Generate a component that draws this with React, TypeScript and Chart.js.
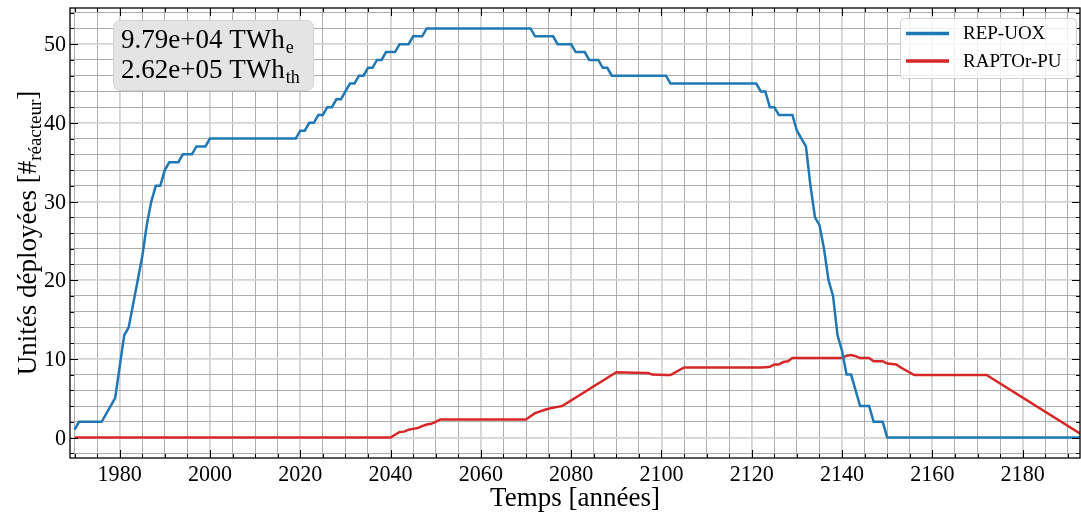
import React, { useEffect, useRef } from 'react';
import { Chart, registerables } from 'chart.js';

Chart.register(...registerables);

const W = 1081;
const H = 518;

const blueYears = [1970, 1971, 1976, 1979, 1980, 1981, 1982, 1983, 1984, 1985, 1986, 1987, 1988, 1989, 1990, 1991, 1993, 1994, 1996, 1997, 1999, 2000, 2019, 2020, 2021, 2022, 2023, 2024, 2025, 2026, 2027, 2028, 2029, 2030, 2031, 2032, 2033, 2034, 2035, 2036, 2037, 2038, 2039, 2041, 2042, 2044, 2045, 2047, 2048, 2071, 2072, 2076, 2077, 2080, 2081, 2083, 2084, 2086, 2087, 2088, 2089, 2101, 2102, 2121, 2122, 2123, 2124, 2125, 2126, 2129, 2130, 2131, 2132, 2133, 2134, 2135, 2136, 2137, 2138, 2139, 2140, 2141, 2142, 2144, 2146, 2147, 2149, 2150, 2193];
const blueValues = [1, 2, 2, 5, 9, 13, 14, 17, 20, 23, 27, 30, 32, 32, 34, 35, 35, 36, 36, 37, 37, 38, 38, 39, 39, 40, 40, 41, 41, 42, 42, 43, 43, 44, 45, 45, 46, 46, 47, 47, 48, 48, 49, 49, 50, 50, 51, 51, 52, 52, 51, 51, 50, 50, 49, 49, 48, 48, 47, 47, 46, 46, 45, 45, 44, 44, 42, 42, 41, 41, 39, 38, 37, 32, 28, 27, 24, 20, 18, 13, 11, 8, 8, 4, 4, 2, 2, 0, 0];

const redYears = [1970, 2040, 2041, 2042, 2043, 2044, 2045, 2046, 2047, 2048, 2049, 2050, 2051, 2070, 2071, 2072, 2073, 2074, 2075, 2076, 2077, 2078, 2090, 2094, 2097, 2098, 2101, 2102, 2105, 2122, 2123, 2124, 2125, 2126, 2127, 2128, 2129, 2140, 2141, 2142, 2143, 2144, 2146, 2147, 2149, 2150, 2152, 2153, 2156, 2172, 2193];
const redValues = [0, 0, 0.35, 0.7, 0.75, 1.0, 1.1, 1.2, 1.45, 1.65, 1.75, 2.0, 2.3, 2.3, 2.7, 3.1, 3.3, 3.5, 3.65, 3.8, 3.9, 4.0, 8.3, 8.25, 8.2, 8.0, 7.95, 7.95, 8.9, 8.9, 8.95, 9.0, 9.3, 9.3, 9.6, 9.7, 10.1, 10.1, 10.4, 10.5, 10.35, 10.1, 10.1, 9.7, 9.7, 9.4, 9.3, 8.9, 7.95, 7.95, 0.4];

const seriesNames = ['REP-UOX', 'RAPTOr-PU'];
const seriesColors = ['#1f77b4', '#d62728'];
const xTickLabels = [1980, 2000, 2020, 2040, 2060, 2080, 2100, 2120, 2140, 2160, 2180];
const yTickLabels = [0, 10, 20, 30, 40, 50];
const xTitle = 'Temps [années]';
const yTitleMain = 'Unités déployées [#';
const yTitleSub = 'réacteur';
const yTitleEnd = ']';
const boxMain = ['9.79e+04 TWh', '2.62e+05 TWh'];
const boxSub = ['e', 'th'];

const X_MIN = 1969;
const X_MAX = 2192.7;
const Y_MIN = -2.6;
const Y_MAX = 54.6;

const FONT = "'Liberation Serif', 'DejaVu Serif', serif";

const xGrid: number[] = [];
for (let v = 1970; v <= 2190; v += 5) xGrid.push(v);
const yGrid: number[] = [];
for (let v = -2; v <= 54; v += 2) yGrid.push(v);

const MAJOR_GRID = '#d4d4d4';
const MINOR_GRID = '#a4a4a4';

function roundRect(ctx: CanvasRenderingContext2D, x: number, y: number, w: number, h: number, r: number) {
  ctx.beginPath();
  ctx.moveTo(x + r, y);
  ctx.lineTo(x + w - r, y);
  ctx.quadraticCurveTo(x + w, y, x + w, y + r);
  ctx.lineTo(x + w, y + h - r);
  ctx.quadraticCurveTo(x + w, y + h, x + w - r, y + h);
  ctx.lineTo(x + r, y + h);
  ctx.quadraticCurveTo(x, y + h, x, y + h - r);
  ctx.lineTo(x, y + r);
  ctx.quadraticCurveTo(x, y, x + r, y);
  ctx.closePath();
}

function narrowText(ctx: CanvasRenderingContext2D, text: string, x: number, y: number, sx: number) {
  ctx.save();
  ctx.translate(x, y);
  ctx.scale(sx, 1);
  ctx.fillText(text, 0, 0);
  ctx.restore();
}

const decorPlugin = {
  id: 'decor',
  afterDraw(chart: any) {
    const ctx: CanvasRenderingContext2D = chart.ctx;
    const a = chart.chartArea;
    const xs = chart.scales.x;
    const ys = chart.scales.y;
    ctx.save();

    // frame
    ctx.strokeStyle = '#000';
    ctx.lineWidth = 1.3;
    ctx.strokeRect(a.left, a.top, a.right - a.left, a.bottom - a.top);

    // ticks (inward, all sides)
    ctx.lineWidth = 1;
    ctx.beginPath();
    for (const v of xGrid) {
      const px = Math.round(xs.getPixelForValue(v)) + 0.5;
      const len = v % 20 === 0 ? 8 : 4;
      ctx.moveTo(px, a.bottom);
      ctx.lineTo(px, a.bottom - len);
      ctx.moveTo(px, a.top);
      ctx.lineTo(px, a.top + len);
    }
    for (const v of yGrid) {
      const py = Math.round(ys.getPixelForValue(v)) + 0.5;
      const len = v % 10 === 0 ? 8 : 4;
      ctx.moveTo(a.left, py);
      ctx.lineTo(a.left + len, py);
      ctx.moveTo(a.right, py);
      ctx.lineTo(a.right - len, py);
    }
    ctx.stroke();

    // tick labels
    ctx.fillStyle = '#000';
    ctx.font = `24px ${FONT}`;
    ctx.textAlign = 'center';
    ctx.textBaseline = 'middle';
    for (const v of xTickLabels) {
      narrowText(ctx, String(v), xs.getPixelForValue(v), 475, 0.92);
    }
    ctx.textAlign = 'right';
    for (const v of yTickLabels) {
      narrowText(ctx, String(v), a.left - 4, ys.getPixelForValue(v) + 1, 0.92);
    }

    // x title
    ctx.font = `27px ${FONT}`;
    ctx.textAlign = 'center';
    ctx.fillText(xTitle, (a.left + a.right) / 2, 499);

    // y title (rotated with subscript)
    ctx.save();
    ctx.translate(27, (a.top + a.bottom) / 2);
    ctx.rotate(-Math.PI / 2);
    ctx.font = `27px ${FONT}`;
    const w1 = ctx.measureText(yTitleMain).width;
    ctx.font = `19px ${FONT}`;
    const w2 = ctx.measureText(yTitleSub).width;
    ctx.font = `27px ${FONT}`;
    const w3 = ctx.measureText(yTitleEnd).width;
    const total = w1 + w2 + w3;
    let cx = -total / 2;
    ctx.textAlign = 'left';
    ctx.textBaseline = 'alphabetic';
    ctx.fillText(yTitleMain, cx, 9);
    cx += w1;
    ctx.font = `19px ${FONT}`;
    ctx.fillText(yTitleSub, cx, 14);
    cx += w2;
    ctx.font = `27px ${FONT}`;
    ctx.fillText(yTitleEnd, cx, 9);
    ctx.restore();

    // text box
    ctx.fillStyle = '#e4e4e4';
    ctx.strokeStyle = '#d2d2d2';
    ctx.lineWidth = 1;
    roundRect(ctx, 113.5, 20.5, 200, 70, 8);
    ctx.fill();
    ctx.stroke();
    ctx.fillStyle = '#000';
    ctx.textAlign = 'left';
    ctx.textBaseline = 'alphabetic';
    const baselines = [48, 78];
    for (let i = 0; i < boxMain.length; i++) {
      ctx.font = `27px ${FONT}`;
      ctx.fillText(boxMain[i], 121, baselines[i]);
      const mw = ctx.measureText(boxMain[i]).width;
      ctx.font = `18px ${FONT}`;
      ctx.fillText(boxSub[i], 121 + mw + 1, baselines[i] + 5);
    }

    // legend
    ctx.fillStyle = 'rgba(255,255,255,0.82)';
    ctx.strokeStyle = '#d0d0d0';
    ctx.lineWidth = 1;
    roundRect(ctx, 900.5, 18.5, 176, 60, 4);
    ctx.fill();
    ctx.stroke();
    const ly = [33.5, 61];
    for (let i = 0; i < seriesNames.length; i++) {
      ctx.strokeStyle = seriesColors[i];
      ctx.lineWidth = 3.4;
      ctx.beginPath();
      ctx.moveTo(906, ly[i]);
      ctx.lineTo(949, ly[i]);
      ctx.stroke();
      ctx.fillStyle = '#000';
      ctx.font = `19px ${FONT}`;
      ctx.textBaseline = 'middle';
      ctx.fillText(seriesNames[i], 963, ly[i] + 1);
    }

    ctx.restore();
  },
};

export default function App() {
  const ref = useRef<HTMLCanvasElement | null>(null);
  useEffect(() => {
    const canvas = ref.current;
    if (!canvas) return;
    const gridColor = (c: any) => {
      const v = c.tick ? c.tick.value : 0;
      return c.scale.axis === 'x' ? (v % 20 === 0 ? MAJOR_GRID : MINOR_GRID) : (v % 10 === 0 ? MAJOR_GRID : MINOR_GRID);
    };
    const gridWidth = (c: any) => {
      const v = c.tick ? c.tick.value : 0;
      const major = c.scale.axis === 'x' ? v % 20 === 0 : v % 10 === 0;
      return major ? 1.8 : 0.9;
    };
    const chart = new Chart(canvas, {
      type: 'line',
      data: {
        datasets: [
          {
            label: seriesNames[0],
            data: blueYears.map((x, i) => ({ x, y: blueValues[i] })),
            borderColor: seriesColors[0],
            backgroundColor: seriesColors[0],
            borderWidth: 2.5,
            pointRadius: 0,
            tension: 0,
            fill: false,
          },
          {
            label: seriesNames[1],
            data: redYears.map((x, i) => ({ x, y: redValues[i] })),
            borderColor: seriesColors[1],
            backgroundColor: seriesColors[1],
            borderWidth: 2.5,
            pointRadius: 0,
            tension: 0,
            fill: false,
          },
        ],
      },
      options: {
        responsive: false,
        animation: false,
        devicePixelRatio: 1,
        layout: { padding: { left: 0, right: 1, top: 8, bottom: 0 } },
        plugins: { legend: { display: false }, tooltip: { enabled: false } },
        scales: {
          x: {
            type: 'linear',
            min: X_MIN,
            max: X_MAX,
            afterBuildTicks: (s: any) => {
              s.ticks = xGrid.map((v) => ({ value: v }));
            },
            afterFit: (s: any) => {
              s.height = 60;
            },
            ticks: { display: false },
            grid: { color: gridColor, lineWidth: gridWidth, drawTicks: false },
            border: { display: false },
          },
          y: {
            type: 'linear',
            min: Y_MIN,
            max: Y_MAX,
            afterBuildTicks: (s: any) => {
              s.ticks = yGrid.map((v) => ({ value: v }));
            },
            afterFit: (s: any) => {
              s.width = 70;
            },
            ticks: { display: false },
            grid: { color: gridColor, lineWidth: gridWidth, drawTicks: false },
            border: { display: false },
          },
        },
      },
      plugins: [decorPlugin],
    } as any);
    return () => chart.destroy();
  }, []);
  return (
    <div style={{ position: 'absolute', left: 0, top: 0, width: W, height: H, background: '#fff' }}>
      <canvas ref={ref} width={W} height={H} style={{ display: 'block', width: W, height: H }} />
    </div>
  );
}
